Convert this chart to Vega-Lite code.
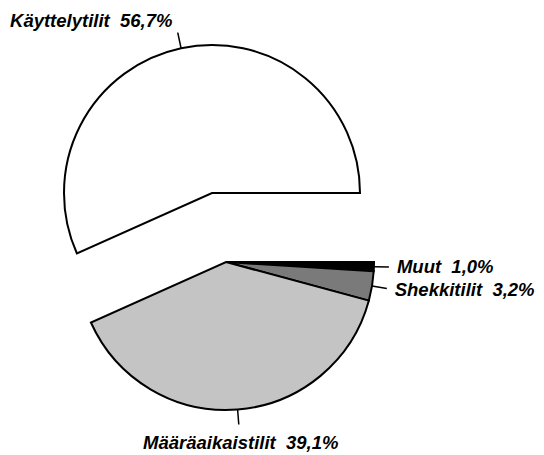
{
  "$schema": "https://vega.github.io/schema/vega-lite/v6.json",
  "width": 544,
  "height": 455,
  "padding": 0,
  "autosize": {"type": "fit", "contains": "padding"},
  "background": "white",
  "config": {"view": {"stroke": null}},
  "data": {
    "values": [
      {"tili": "Käyttelytilit", "osuus": 56.7, "jarj": 1, "label": "Käyttelytilit\u00a0 56,7%"},
      {"tili": "Muut", "osuus": 1.0, "jarj": 2, "label": "Muut\u00a0 1,0%"},
      {"tili": "Shekkitilit", "osuus": 3.2, "jarj": 3, "label": "Shekkitilit\u00a0 3,2%"},
      {"tili": "Määräaikaistilit", "osuus": 39.1, "jarj": 4, "label": "Määräaikaistilit\u00a0 39,1%"}
    ]
  },
  "encoding": {
    "theta": {"field": "osuus", "type": "quantitative", "stack": true, "scale": {"domain": [0, 100], "range": [-1.9918, 4.2914]}},
    "order": {"field": "jarj", "type": "quantitative"}
  },
  "resolve": {"scale": {"theta": "independent"}},
  "layer": [
    {
      "mark": {"type": "arc", "radius": 148, "stroke": "black", "strokeWidth": 2, "xOffset": -46, "yOffset": 34.5},
      "encoding": {
        "color": {"field": "tili", "type": "nominal", "legend": null,
          "scale": {"domain": ["Muut", "Shekkitilit", "Määräaikaistilit", "Käyttelytilit"], "range": ["#000000", "#7a7a7a", "#c4c4c4", "#ffffff"]}},
        "opacity": {"condition": {"test": "datum.tili === 'Käyttelytilit'", "value": 0}, "value": 1}
      }
    },
    {
      "mark": {"type": "arc", "radius": 148, "stroke": "black", "strokeWidth": 2, "xOffset": -60, "yOffset": -34.5},
      "encoding": {
        "color": {"field": "tili", "type": "nominal", "legend": null},
        "opacity": {"condition": {"test": "datum.tili === 'Käyttelytilit'", "value": 1}, "value": 0}
      }
    },
    {
      "mark": {"type": "arc", "radius": 163, "radius2": 148, "padAngle": 3, "fill": null, "stroke": "black", "strokeWidth": 1.5, "xOffset": -46, "yOffset": 34.5},
      "encoding": {
        "opacity": {"condition": {"test": "datum.tili === 'Käyttelytilit'", "value": 0}, "value": 1}
      }
    },
    {
      "mark": {"type": "arc", "radius": 164, "radius2": 148, "padAngle": 3, "fill": null, "stroke": "black", "strokeWidth": 1.5, "xOffset": -60, "yOffset": -34.5},
      "encoding": {
        "theta": {"field": "osuus", "type": "quantitative", "stack": true, "scale": {"domain": [0, 100], "range": [-0.7775, 1.2225]}},
        "opacity": {"condition": {"test": "datum.tili === 'Käyttelytilit'", "value": 1}, "value": 0}
      }
    },
    {
      "mark": {"type": "text", "radius": 170, "align": "right", "baseline": "alphabetic", "dx": -4, "font": "Liberation Sans", "fontStyle": "italic", "fontWeight": "bold", "fontSize": 18.5, "color": "black", "xOffset": -60, "yOffset": -34.5},
      "encoding": {
        "text": {"field": "label"},
        "opacity": {"condition": {"test": "datum.tili === 'Käyttelytilit'", "value": 1}, "value": 0}
      }
    },
    {
      "mark": {"type": "text", "radius": 188, "align": "center", "baseline": "alphabetic", "font": "Liberation Sans", "fontStyle": "italic", "fontWeight": "bold", "fontSize": 18.5, "color": "black", "xOffset": -46, "yOffset": 34.5},
      "encoding": {
        "text": {"field": "label"},
        "opacity": {"condition": {"test": "datum.tili === 'Määräaikaistilit'", "value": 1}, "value": 0}
      }
    },
    {
      "mark": {"type": "text", "radius": 171, "align": "left", "baseline": "middle", "font": "Liberation Sans", "fontStyle": "italic", "fontWeight": "bold", "fontSize": 18.5, "color": "black", "xOffset": -46, "yOffset": 34.5},
      "encoding": {
        "text": {"field": "label"},
        "opacity": {"condition": {"test": "datum.tili === 'Muut' || datum.tili === 'Shekkitilit'", "value": 1}, "value": 0}
      }
    }
  ]
}
